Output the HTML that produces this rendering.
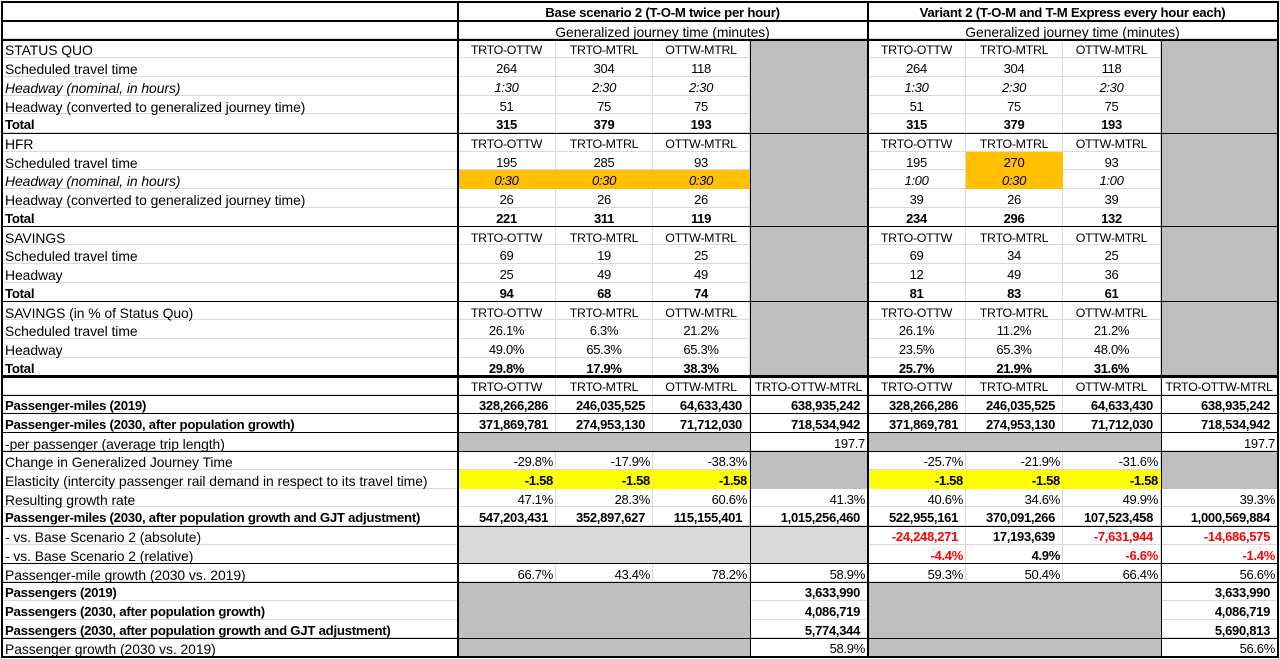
<!DOCTYPE html>
<html><head><meta charset="utf-8">
<style>
html,body{margin:0;padding:0;background:#fff;}
body{width:1280px;height:659px;position:relative;overflow:hidden;font-family:"Liberation Sans",Arial,sans-serif;color:#000;}
.t{position:absolute;left:2px;top:2px;display:grid;grid-template-columns:456px 98px 97px 97px 118px 98px 97px 98px 117px;grid-auto-rows:18.72px;}
.t>div{box-sizing:border-box;border-right:1px solid #d9d9d9;border-bottom:1px solid #d9d9d9;padding:2px 0 0 0;line-height:18px;font-size:13px;letter-spacing:-0.3px;white-space:nowrap;text-align:center;overflow:visible;}
.t .a{text-align:left;padding-left:3px;font-size:13.9px;letter-spacing:-0.05px;}
.t .ab{text-align:left;padding-left:3px;font-size:13.2px;letter-spacing:-0.25px;font-weight:bold;}
.t .ai{text-align:left;padding-left:3px;font-size:13.9px;letter-spacing:-0.05px;font-style:italic;}
.t .h{font-size:12.4px;letter-spacing:-0.3px;}
.t .ti{grid-column:span 4;font-weight:bold;font-size:13.2px;letter-spacing:-0.25px;}
.t .gj{grid-column:span 4;font-size:13.9px;letter-spacing:-0.05px;}
.t .r{text-align:right;padding-right:7px;}
.t .p{text-align:right;padding-right:2px;}
.t .b{font-weight:bold;}
.t .i{font-style:italic;}
.t .g{background:#bfbfbf;border-color:#bfbfbf;}
.t .lg{background:#d9d9d9;border-color:#d9d9d9;}
.t .o{background:#ffc000;border-color:#ffc000;}
.t .y{background:#ffff00;border-color:#ffff00;}
.t .red{color:#ff0000;}
.ln{position:absolute;background:#000;z-index:5;}
</style></head><body>
<div class="t">
<!-- R1 -->
<div></div><div class="ti">Base scenario 2 (T-O-M twice per hour)</div><div class="ti">Variant 2 (T-O-M and T-M Express every hour each)</div>
<!-- R2 -->
<div></div><div class="gj">Generalized journey time (minutes)</div><div class="gj">Generalized journey time (minutes)</div>
<!-- R3 -->
<div class="a">STATUS QUO</div><div class="h">TRTO-OTTW</div><div class="h">TRTO-MTRL</div><div class="h">OTTW-MTRL</div><div class="g"></div><div class="h">TRTO-OTTW</div><div class="h">TRTO-MTRL</div><div class="h">OTTW-MTRL</div><div class="g"></div>
<!-- R4 -->
<div class="a">Scheduled travel time</div><div>264</div><div>304</div><div>118</div><div class="g"></div><div>264</div><div>304</div><div>118</div><div class="g"></div>
<!-- R5 -->
<div class="ai">Headway (nominal, in hours)</div><div class="i">1:30</div><div class="i">2:30</div><div class="i">2:30</div><div class="g"></div><div class="i">1:30</div><div class="i">2:30</div><div class="i">2:30</div><div class="g"></div>
<!-- R6 -->
<div class="a">Headway (converted to generalized journey time)</div><div>51</div><div>75</div><div>75</div><div class="g"></div><div>51</div><div>75</div><div>75</div><div class="g"></div>
<!-- R7 -->
<div class="ab">Total</div><div class="b">315</div><div class="b">379</div><div class="b">193</div><div class="g"></div><div class="b">315</div><div class="b">379</div><div class="b">193</div><div class="g"></div>
<!-- R8 -->
<div class="a">HFR</div><div class="h">TRTO-OTTW</div><div class="h">TRTO-MTRL</div><div class="h">OTTW-MTRL</div><div class="g"></div><div class="h">TRTO-OTTW</div><div class="h">TRTO-MTRL</div><div class="h">OTTW-MTRL</div><div class="g"></div>
<!-- R9 -->
<div class="a">Scheduled travel time</div><div>195</div><div>285</div><div>93</div><div class="g"></div><div>195</div><div class="o">270</div><div>93</div><div class="g"></div>
<!-- R10 -->
<div class="ai">Headway (nominal, in hours)</div><div class="i o">0:30</div><div class="i o">0:30</div><div class="i o">0:30</div><div class="g"></div><div class="i">1:00</div><div class="i o">0:30</div><div class="i">1:00</div><div class="g"></div>
<!-- R11 -->
<div class="a">Headway (converted to generalized journey time)</div><div>26</div><div>26</div><div>26</div><div class="g"></div><div>39</div><div>26</div><div>39</div><div class="g"></div>
<!-- R12 -->
<div class="ab">Total</div><div class="b">221</div><div class="b">311</div><div class="b">119</div><div class="g"></div><div class="b">234</div><div class="b">296</div><div class="b">132</div><div class="g"></div>
<!-- R13 -->
<div class="a">SAVINGS</div><div class="h">TRTO-OTTW</div><div class="h">TRTO-MTRL</div><div class="h">OTTW-MTRL</div><div class="g"></div><div class="h">TRTO-OTTW</div><div class="h">TRTO-MTRL</div><div class="h">OTTW-MTRL</div><div class="g"></div>
<!-- R14 -->
<div class="a">Scheduled travel time</div><div>69</div><div>19</div><div>25</div><div class="g"></div><div>69</div><div>34</div><div>25</div><div class="g"></div>
<!-- R15 -->
<div class="a">Headway</div><div>25</div><div>49</div><div>49</div><div class="g"></div><div>12</div><div>49</div><div>36</div><div class="g"></div>
<!-- R16 -->
<div class="ab">Total</div><div class="b">94</div><div class="b">68</div><div class="b">74</div><div class="g"></div><div class="b">81</div><div class="b">83</div><div class="b">61</div><div class="g"></div>
<!-- R17 -->
<div class="a">SAVINGS (in % of Status Quo)</div><div class="h">TRTO-OTTW</div><div class="h">TRTO-MTRL</div><div class="h">OTTW-MTRL</div><div class="g"></div><div class="h">TRTO-OTTW</div><div class="h">TRTO-MTRL</div><div class="h">OTTW-MTRL</div><div class="g"></div>
<!-- R18 -->
<div class="a">Scheduled travel time</div><div>26.1%</div><div>6.3%</div><div>21.2%</div><div class="g"></div><div>26.1%</div><div>11.2%</div><div>21.2%</div><div class="g"></div>
<!-- R19 -->
<div class="a">Headway</div><div>49.0%</div><div>65.3%</div><div>65.3%</div><div class="g"></div><div>23.5%</div><div>65.3%</div><div>48.0%</div><div class="g"></div>
<!-- R20 -->
<div class="ab">Total</div><div class="b">29.8%</div><div class="b">17.9%</div><div class="b">38.3%</div><div class="g"></div><div class="b">25.7%</div><div class="b">21.9%</div><div class="b">31.6%</div><div class="g"></div>
<!-- R21 -->
<div></div><div class="h">TRTO-OTTW</div><div class="h">TRTO-MTRL</div><div class="h">OTTW-MTRL</div><div class="h">TRTO-OTTW-MTRL</div><div class="h">TRTO-OTTW</div><div class="h">TRTO-MTRL</div><div class="h">OTTW-MTRL</div><div class="h">TRTO-OTTW-MTRL</div>
<!-- R22 -->
<div class="ab">Passenger-miles (2019)</div><div class="b r">328,266,286</div><div class="b r">246,035,525</div><div class="b r">64,633,430</div><div class="b r">638,935,242</div><div class="b r">328,266,286</div><div class="b r">246,035,525</div><div class="b r">64,633,430</div><div class="b r">638,935,242</div>
<!-- R23 -->
<div class="ab">Passenger-miles (2030, after population growth)</div><div class="b r">371,869,781</div><div class="b r">274,953,130</div><div class="b r">71,712,030</div><div class="b r">718,534,942</div><div class="b r">371,869,781</div><div class="b r">274,953,130</div><div class="b r">71,712,030</div><div class="b r">718,534,942</div>
<!-- R24 -->
<div class="a">-per passenger (average trip length)</div><div class="g"></div><div class="g"></div><div class="g"></div><div class="p">197.7</div><div class="g"></div><div class="g"></div><div class="g"></div><div class="p">197.7</div>
<!-- R25 -->
<div class="a">Change in Generalized Journey Time</div><div class="p">-29.8%</div><div class="p">-17.9%</div><div class="p">-38.3%</div><div class="g"></div><div class="p">-25.7%</div><div class="p">-21.9%</div><div class="p">-31.6%</div><div class="g"></div>
<!-- R26 -->
<div class="a">Elasticity (intercity passenger rail demand in respect to its travel time)</div><div class="y b p">-1.58</div><div class="y b p">-1.58</div><div class="y b p">-1.58</div><div class="g"></div><div class="y b p">-1.58</div><div class="y b p">-1.58</div><div class="y b p">-1.58</div><div class="g"></div>
<!-- R27 -->
<div class="a">Resulting growth rate</div><div class="p">47.1%</div><div class="p">28.3%</div><div class="p">60.6%</div><div class="p">41.3%</div><div class="p">40.6%</div><div class="p">34.6%</div><div class="p">49.9%</div><div class="p">39.3%</div>
<!-- R28 -->
<div class="ab">Passenger-miles (2030, after population growth and GJT adjustment)</div><div class="b r">547,203,431</div><div class="b r">352,897,627</div><div class="b r">115,155,401</div><div class="b r">1,015,256,460</div><div class="b r">522,955,161</div><div class="b r">370,091,266</div><div class="b r">107,523,458</div><div class="b r">1,000,569,884</div>
<!-- R29 -->
<div class="a">- vs. Base Scenario 2 (absolute)</div><div class="lg"></div><div class="lg"></div><div class="lg"></div><div class="lg"></div><div class="b r red">-24,248,271</div><div class="b r">17,193,639</div><div class="b r red">-7,631,944</div><div class="b r red">-14,686,575</div>
<!-- R30 -->
<div class="a">- vs. Base Scenario 2 (relative)</div><div class="lg"></div><div class="lg"></div><div class="lg"></div><div class="lg"></div><div class="b p red">-4.4%</div><div class="b p">4.9%</div><div class="b p red">-6.6%</div><div class="b p red">-1.4%</div>
<!-- R31 -->
<div class="a">Passenger-mile growth (2030 vs. 2019)</div><div class="p">66.7%</div><div class="p">43.4%</div><div class="p">78.2%</div><div class="p">58.9%</div><div class="p">59.3%</div><div class="p">50.4%</div><div class="p">66.4%</div><div class="p">56.6%</div>
<!-- R32 -->
<div class="ab">Passengers (2019)</div><div class="g"></div><div class="g"></div><div class="g"></div><div class="b r">3,633,990</div><div class="g"></div><div class="g"></div><div class="g"></div><div class="b r">3,633,990</div>
<!-- R33 -->
<div class="ab">Passengers (2030, after population growth)</div><div class="g"></div><div class="g"></div><div class="g"></div><div class="b r">4,086,719</div><div class="g"></div><div class="g"></div><div class="g"></div><div class="b r">4,086,719</div>
<!-- R34 -->
<div class="ab">Passengers (2030, after population growth and GJT adjustment)</div><div class="g"></div><div class="g"></div><div class="g"></div><div class="b r">5,774,344</div><div class="g"></div><div class="g"></div><div class="g"></div><div class="b r">5,690,813</div>
<!-- R35 -->
<div class="a">Passenger growth (2030 vs. 2019)</div><div class="g"></div><div class="g"></div><div class="g"></div><div class="p">58.9%</div><div class="g"></div><div class="g"></div><div class="g"></div><div class="p">56.6%</div>
</div>

<!-- horizontal dark lines -->
<div class="ln" style="left:1px;width:1278px;top:1px;height:2px"></div>
<div class="ln" style="left:1px;width:1278px;top:20px;height:2px"></div>
<div class="ln" style="left:1px;width:1278px;top:39px;height:2px"></div>
<div class="ln" style="left:1px;width:1278px;top:133px;height:1px"></div>
<div class="ln" style="left:1px;width:1278px;top:226px;height:1px"></div>
<div class="ln" style="left:1px;width:1278px;top:301px;height:1px"></div>
<div class="ln" style="left:1px;width:1278px;top:375px;height:3px"></div>
<div class="ln" style="left:1px;width:1278px;top:395px;height:1px"></div>
<div class="ln" style="left:1px;width:1278px;top:413px;height:1px"></div>
<div class="ln" style="left:1px;width:1278px;top:432px;height:1px"></div>
<div class="ln" style="left:1px;width:1278px;top:451px;height:1px"></div>
<div class="ln" style="left:1px;width:1278px;top:526px;height:1px"></div>
<div class="ln" style="left:1px;width:1278px;top:563px;height:1px"></div>
<div class="ln" style="left:1px;width:1278px;top:582px;height:1px"></div>
<div class="ln" style="left:1px;width:1278px;top:638px;height:1px"></div>
<div class="ln" style="left:1px;width:1278px;top:656px;height:2px"></div>
<!-- vertical dark lines -->
<div class="ln" style="left:1px;width:2px;top:1px;height:657px"></div>
<div class="ln" style="left:457px;width:2px;top:1px;height:657px"></div>
<div class="ln" style="left:750px;width:1px;top:39px;height:619px"></div>
<div class="ln" style="left:867px;width:2px;top:1px;height:657px"></div>
<div class="ln" style="left:1161px;width:1px;top:39px;height:619px"></div>
<div class="ln" style="left:1277px;width:2px;top:1px;height:657px"></div>
</body></html>
